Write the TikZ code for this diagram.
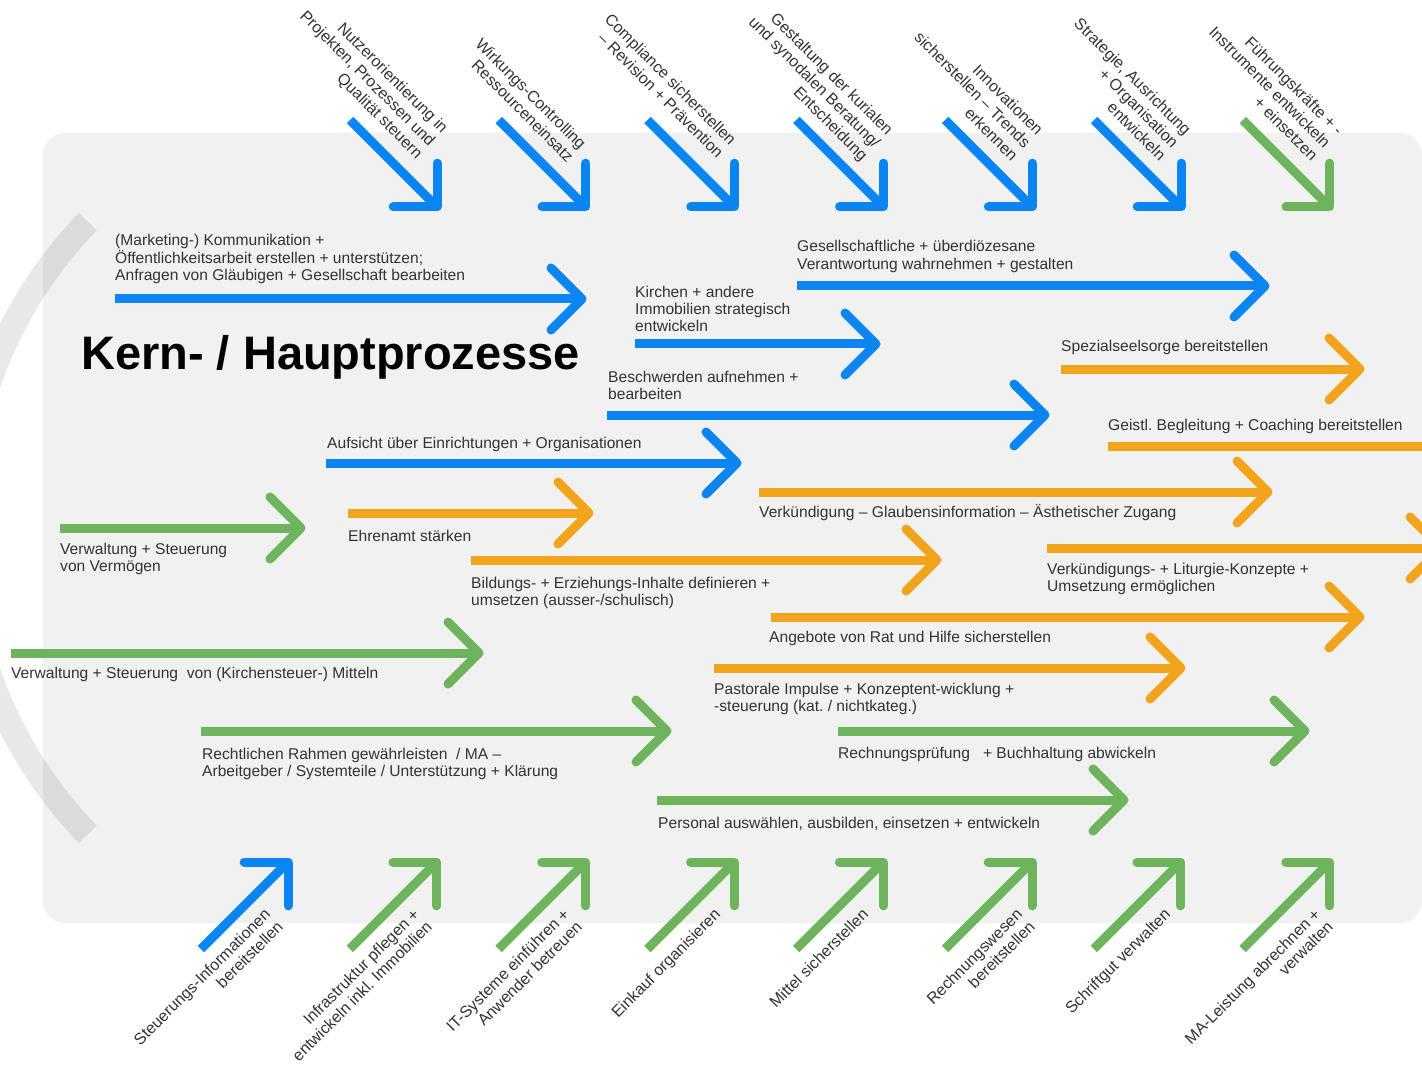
\documentclass[tikz,border=0pt]{standalone}
\usepackage{fontspec}
\setmainfont{Liberation Sans}
\usetikzlibrary{calc}
\frenchspacing

\definecolor{panelgrey}{HTML}{F1F1F1}
\definecolor{flowblue}{HTML}{0A85F2}
\definecolor{floworange}{HTML}{F2A51C}
\definecolor{flowgreen}{HTML}{6DB45C}
\definecolor{inkgrey}{HTML}{333333}

\tikzset{
  shaft/.style={line width=9pt, line cap=butt},
  chev/.pic={\draw[line width=9pt, line cap=round, line join=round] (-31,-31) -- (0,0) -- (-31,31);},
  % multi-line texts are anchored on the baseline of their last line
  txt/.style={font=\fontsize{15.6}{17.5}\selectfont, text=inkgrey, inner sep=0pt, anchor=base west, align=left},
  slant/.style={font=\fontsize{16}{18}\selectfont, text=inkgrey, inner sep=0pt, anchor=north east, align=right},
}

\begin{document}
\begin{tikzpicture}[x=1pt, y=-1pt]
\useasboundingbox (0,0) rectangle (1422,1067);
\clip (0,0) rectangle (1422,1067);
\fill[white] (0,0) rectangle (1422,1067);

% grey panel and the faint arc on the left
\fill[panelgrey, rounded corners=22pt] (43,133) rectangle (1422,923);
\coordinate (arcc) at (405,528);
\draw[line width=25pt, black, opacity=0.09] ($(arcc)+(224:441)$) arc[start angle=224, end angle=136, radius=441];

% title
\node[font=\fontsize{47}{56}\selectfont\bfseries, anchor=base west, inner sep=0pt] (title) at (81,370) {Kern- / Hauptprozesse};

% horizontal process arrows: name / start x / tip x / y / colour
\foreach \n/\xa/\xb/\yy/\cc in {
  b1/115/582/299/flowblue, b2/635/876/344/flowblue, b3/797/1265/286/flowblue,
  b4/607/1045/415/flowblue, b5/326/737/463/flowblue,
  o6/1061/1360/369/floworange, o7/1108/1465/446/floworange, o8/759/1268/492/floworange,
  o9/348/589/513/floworange, o10/471/937/560/floworange, o11/1047/1441/548/floworange,
  o12/771/1360/617/floworange, o13/714/1181/668/floworange,
  g14/60/301/528/flowgreen, g15/11/479/653/flowgreen, g16/201/667/731/flowgreen,
  g17/838/1305/731/flowgreen, g18/657/1124/800/flowgreen}
{
  \coordinate (\n s) at (\xa,\yy);
  \coordinate (\n e) at (\xb,\yy);
  \draw[shaft, \cc] (\n s) -- (\n e);
  \pic[color=\cc] at (\n e) {chev};
}

% diagonal arrows from the top (pointing down-right)
\foreach \k/\cc in {0/flowblue, 1/flowblue, 2/flowblue, 3/flowblue, 4/flowblue, 5/flowblue, 6/flowgreen}
{
  \coordinate (top\k e) at (437+148.8*\k, 207);
  \coordinate (top\k s) at (350+148.8*\k, 120);
  \draw[shaft, \cc] (top\k s) -- (top\k e);
  \pic[color=\cc, rotate=-45] at (top\k e) {chev};
}

% diagonal arrows from the bottom (pointing up-right)
\foreach \k/\cc in {0/flowblue, 1/flowgreen, 2/flowgreen, 3/flowgreen, 4/flowgreen, 5/flowgreen, 6/flowgreen, 7/flowgreen}
{
  \coordinate (bot\k e) at (288+148.8*\k, 862);
  \coordinate (bot\k s) at (201+148.8*\k, 949);
  \draw[shaft, \cc] (bot\k s) -- (bot\k e);
  \pic[color=\cc, rotate=45] at (bot\k e) {chev};
}

% texts of the horizontal arrows
\node[txt] (l1) at (115,281) {(Marketing-) Kommunikation +\\Öffentlichkeitsarbeit erstellen + unterstützen;\\Anfragen von Gläubigen + Gesellschaft bearbeiten};
\node[txt] (l2) at (635,332) {Kirchen + andere\\Immobilien strategisch\\entwickeln};
\node[txt] (l3) at (797,269.5) {Gesellschaftliche + überdiözesane\\Verantwortung wahrnehmen + gestalten};
\node[txt] (l4) at (608,399.5) {Beschwerden aufnehmen +\\bearbeiten};
\node[txt] (l5) at (327,448) {Aufsicht über Einrichtungen + Organisationen};
\node[txt] (l6) at (1061,352) {Spezialseelsorge bereitstellen};
\node[txt] (l7) at (1108,430) {Geistl. Begleitung + Coaching bereitstellen};
\node[txt] (l8) at (759,517) {Verkündigung – Glaubensinformation – Ästhetischer Zugang};
\node[txt] (l9) at (348,541) {Ehrenamt stärken};
\node[txt] (l10) at (471,605.5) {Bildungs- + Erziehungs-Inhalte definieren +\\umsetzen (ausser-/schulisch)};
\node[txt] (l11) at (1047,591.5) {Verkündigungs- + Liturgie-Konzepte +\\Umsetzung ermöglichen};
\node[txt] (l12) at (769,642) {Angebote von Rat und Hilfe sicherstellen};
\node[txt] (l13) at (714,711.5) {Pastorale Impulse + Konzeptent-wicklung +\\-steuerung (kat. / nichtkateg.)};
\node[txt] (l14) at (60,571.5) {Verwaltung + Steuerung\\von Vermögen};
\node[txt] (l15) at (11,678) {Verwaltung + Steuerung\ \ von (Kirchensteuer-) Mitteln};
\node[txt] (l16) at (202,776.5) {Rechtlichen Rahmen gewährleisten\ \ / MA –\\Arbeitgeber / Systemteile / Unterstützung + Klärung};
\node[txt] (l17) at (838,758) {Rechnungsprüfung\ \ \ + Buchhaltung abwickeln};
\node[txt] (l18) at (658,828) {Personal auswählen, ausbilden, einsetzen + entwickeln};

% texts of the top arrows
\node[slant, rotate=-45] (t1) at (450,126) {Nutzerorientierung in\\Projekten, Prozessen und\\Qualität steuern};
\node[slant, rotate=-45] (t2) at (588,142) {Wirkungs-Controlling\\Ressourceneinsatz};
\node[slant, rotate=-45] (t3) at (738,138) {Compliance sicherstellen\\– Revision + Prävention};
\node[slant, rotate=-45] (t4) at (895,128) {Gestaltung der kurialen\\und synodalen Beratung/\\Entscheidung};
\node[slant, rotate=-45] (t5) at (1045,128) {Innovationen\\sicherstellen – Trends\\erkennen};
\node[slant, rotate=-45] (t6) at (1193,128) {Strategie, Ausrichtung\\+ Organisation\\entwickeln};
\node[slant, rotate=-45] (t7) at (1345,128) {Führungskräfte + -\\Instrumente entwickeln\\+ einsetzen};

% texts of the bottom arrows
\node[slant, rotate=45] (s1) at (263,907) {Steuerungs-Informationen\\bereitstellen};
\node[slant, rotate=45] (s2) at (412,907) {Infrastruktur pflegen +\\entwickeln inkl. Immobilien};
\node[slant, rotate=45] (s3) at (562,907) {IT-Systeme einführen +\\Anwender betreuen};
\node[slant, rotate=45] (s4) at (713,907) {Einkauf organisieren};
\node[slant, rotate=45] (s5) at (861,907) {Mittel sicherstellen};
\node[slant, rotate=45] (s6) at (1015,907) {Rechnungswesen\\bereitstellen};
\node[slant, rotate=45] (s7) at (1163,907) {Schriftgut verwalten};
\node[slant, rotate=45] (s8) at (1313,907) {MA-Leistung abrechnen +\\verwalten};
\end{tikzpicture}
\end{document}
